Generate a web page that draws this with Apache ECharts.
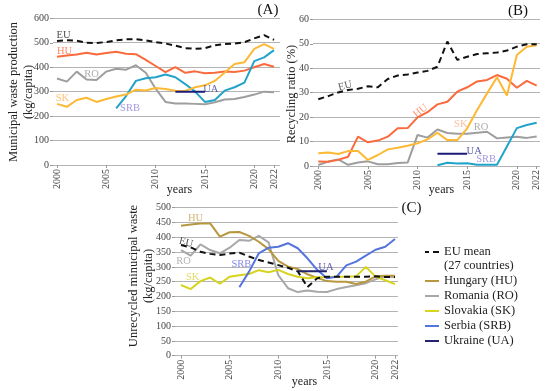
<!DOCTYPE html>
<html><head><meta charset="utf-8">
<script src="https://cdn.jsdelivr.net/npm/echarts@6/dist/echarts.min.js"></script>
<style>html,body{margin:0;padding:0;background:#fff}#c{width:550px;height:391px}</style>
</head><body><div id="c"></div>
<script>
const years = [2000,2001,2002,2003,2004,2005,2006,2007,2008,2009,2010,2011,2012,2013,2014,2015,2016,2017,2018,2019,2020,2021,2022];
const xTickLabels = [2000,2005,2010,2015,2020,2022];

// (A) Municipal waste production (kg/capita)
const A_EU  = [507,510,508,500,499,503,510,514,515,510,502,497,488,478,475,478,490,495,497,502,518,531,512];
const A_HU  = [443,448,452,459,452,458,463,455,453,430,405,380,400,377,383,375,377,382,380,386,400,413,402];
const A_RO  = [354,341,382,350,348,382,394,390,408,377,312,258,252,252,250,248,257,268,270,278,288,300,298];
const A_SK  = [250,238,266,275,258,270,280,288,308,305,315,311,304,303,318,326,344,378,413,420,475,494,475];
const A_SRB = [null,null,null,null,null,null,232,282,344,355,359,370,359,331,300,258,266,304,318,337,425,440,470];
const A_UA  = [null,null,null,null,null,null,null,null,null,null,null,null,300,300,300,300,null,null,null,null,null,null,null];

// (B) Recycling ratio (%)
const B_EU  = [27.3,28.6,30.1,31.1,31.6,32.6,32.2,35.6,37.0,37.4,38.2,38.9,40.6,50.9,43.4,44.7,45.8,46.1,46.4,47.2,48.8,49.8,49.8];
const B_HU  = [1.8,1.7,2.5,3.8,12.0,9.7,10.4,12.0,15.4,15.5,19.9,22.0,25.2,26.3,30.4,32.2,34.6,35.2,37.2,35.7,32.0,34.8,32.9];
const B_RO  = [0.4,1.8,2.7,0.5,1.4,1.9,0.7,0.7,1.2,1.4,12.7,11.6,14.9,13.5,13.2,13.2,13.6,14.0,11.3,11.7,12.0,11.5,12.1];
const B_SK  = [5.2,5.5,4.9,6.1,6.1,2.5,4.5,6.8,7.5,8.3,9.3,10.9,13.6,10.6,10.6,15.4,22.9,29.7,36.3,28.8,45.4,48.8,49.4];
const B_SRB = [null,null,null,null,null,null,null,null,null,null,null,null,0.3,1.3,1.0,1.1,0.5,0.5,0.5,8.0,15.5,16.8,17.7];
const B_UA  = [null,null,null,null,null,null,null,null,null,null,null,null,5,5,5,5,null,null,null,null,null,null,null];

// (C) Unrecycled municipal waste (kg/capita)
const C_EU  = [374,366,351,344,340,345,348,335,323,315,306,297,285,232,262,267,267,267,267,267,268,266,266];
const C_HU  = [439,443,447,447,402,417,418,405,385,360,320,301,293,275,263,252,250,250,242,250,268,270,270];
const C_RO  = [357,338,376,357,346,365,391,388,405,383,272,228,215,220,216,215,225,232,238,245,258,268,265];
const C_SK  = [239,225,252,264,243,267,272,276,289,282,290,276,267,262,265,265,267,267,268,300,267,255,242];
const C_SRB = [null,null,null,null,null,null,231,284,346,365,368,380,363,329,290,262,267,305,318,338,358,368,394];
const C_UA  = [null,null,null,null,null,null,null,null,null,null,null,null,285,285,285,285,null,null,null,null,null,null,null];

const legendNames = ['EU mean','Hungary (HU)','Romania (RO)','Slovakia (SK)','Serbia (SRB)','Ukraine (UA)'];

// in-plot series tags
const A_tags = [['EU',2000.66,532],['HU',2000.76,466],['RO',2003.5,370],['SK',2000.55,275],['SRB',2007.4,232],['UA',2015.6,311]];
const B_tags = [['EU',2002.7,32.7],['HU',2010.3,22.5],['SK',2014.35,17.2],['RO',2016.4,16.0],['UA',2015.7,6.1],['SRB',2016.9,2.9]];
const C_tags = [['HU',2001.5,465],['EU',2000.5,382],['RO',2000.25,318],['SRB',2006.2,310],['SK',2001.2,266],['UA',2014.9,300]];

const SERIF = "'Liberation Serif','Times New Roman',serif";
const colA = {EU:'#111111',HU:'#fb6a3c',RO:'#9e9e9e',SK:'#fdb935',SRB:'#22a3c9',UA:'#1c1c78'};
const colC = {EU:'#111111',HU:'#b8983e',RO:'#a8a8a8',SK:'#d6d41e',SRB:'#5474de',UA:'#22226e'};
const tagColA = {EU:'#222',HU:'#fb6a3c',RO:'#999',SK:'#fdb04a',SRB:'#8b80d8',UA:'#3a3f9c'};
const tagColB = {EU:'#333',HU:'#f57c55',RO:'#999',SK:'#f7b088',SRB:'#8b80d8',UA:'#2e3390'};
const tagColC = {EU:'#222',HU:'#c4a050',RO:'#a0a0a0',SK:'#d8d040',SRB:'#6a6ae0',UA:'#3a3aa0'};
const tagRotB = {EU:14,HU:38};
const tagRotC = {EU:-14};

function pts(arr){ return years.map((y,i)=>[y,arr[i]]).filter(p=>p[1]!==null); }
function line(name, arr, color, gi, dashed, z){
  return {type:'line', name, data:pts(arr), xAxisIndex:gi, yAxisIndex:gi, symbol:'none',
    lineStyle:{color, width:2, type: dashed ? [6,4] : 'solid'}, itemStyle:{color}, z: z||2, silent:true, animation:false};
}
function tags(list, gi, colors, rots){
  return {type:'scatter', xAxisIndex:gi, yAxisIndex:gi, symbolSize:0, silent:true, z:10, animation:false,
    data: list.map(t=>({value:[t[1],t[2]], label:{show:true, position:'inside', formatter:t[0],
      color:colors[t[0]], rotate:(rots&&rots[t[0]])||0, fontSize:10.5, fontFamily:SERIF}}))};
}

const P = {
  A:{bg:{left:53,right:270,top:18.3,bottom:226}, d:{left:57,right:276,top:18.3,bottom:226}, max:600, iv:100},
  B:{bg:{left:313,right:10,top:19.3,bottom:225}, d:{left:318.3,right:13.3,top:19.3,bottom:225}, max:60, iv:10},
  C:{bg:{left:175,right:152,top:207.7,bottom:35.3}, d:{left:181,right:155,top:207.7,bottom:35.3}, max:500, iv:50}
};
const grid=[], xAxis=[], yAxis=[];
['A','B','C'].forEach(k=>{
  const p=P[k];
  grid.push(p.bg); grid.push(p.d);
  const bi=grid.length-2, di=grid.length-1;
  xAxis.push({type:'value', gridIndex:bi, min:0, max:1, show:false});
  yAxis.push({type:'value', gridIndex:bi, min:0, max:p.max, interval:p.iv,
    axisLine:{show:false}, axisTick:{show:true, length:3, lineStyle:{color:'#999'}},
    axisLabel:{fontFamily:SERIF, fontSize:10, color:'#444', margin:4},
    splitLine:{lineStyle:{color:'#b3b3b3', width:1.2}}});
  xAxis.push({type:'value', gridIndex:di, min:2000, max:2022,
    axisLine:{show:false}, splitLine:{show:false},
    axisTick:{show:true, length:3, customValues:xTickLabels, lineStyle:{color:'#999'}},
    axisLabel:{customValues:xTickLabels, rotate:90, margin:4, fontFamily:SERIF, fontSize:10, color:'#444', formatter:v=>String(v)}});
  yAxis.push({type:'value', gridIndex:di, min:0, max:p.max, show:false});
});

const series = [
  line('A-RO',A_RO,colA.RO,1), line('A-HU',A_HU,colA.HU,1), line('A-SRB',A_SRB,colA.SRB,1),
  line('A-SK',A_SK,colA.SK,1), line('A-UA',A_UA,colA.UA,1), line('A-EU',A_EU,colA.EU,1,true,3),
  tags(A_tags,1,tagColA),
  line('B-RO',B_RO,colA.RO,3), line('B-HU',B_HU,colA.HU,3), line('B-SK',B_SK,colA.SK,3),
  line('B-SRB',B_SRB,colA.SRB,3), line('B-UA',B_UA,colA.UA,3), line('B-EU',B_EU,colA.EU,3,true,3),
  tags(B_tags,3,tagColB,tagRotB),
  line(legendNames[2],C_RO,colC.RO,5), line(legendNames[1],C_HU,colC.HU,5), line(legendNames[3],C_SK,colC.SK,5),
  line(legendNames[4],C_SRB,colC.SRB,5), line(legendNames[5],C_UA,colC.UA,5), line(legendNames[0],C_EU,colC.EU,5,true,3),
  tags(C_tags,5,tagColC,tagRotC)
];

const legText = {fontFamily:SERIF, fontSize:12.5, color:'#222', lineHeight:14};
const option = {
  animation:false, backgroundColor:'#fff',
  grid, xAxis, yAxis, series,
  legend:[
    {data:[{name:legendNames[0], icon:'path://M0,0h4v2h-4zM8,0h6v2h-6z'}], left:425, top:245, orient:'vertical', padding:0, itemWidth:14, itemHeight:2, selectedMode:false, textStyle:legText},
    {data:legendNames.slice(1).map(n=>({name:n, icon:'rect'})), left:425, top:274, orient:'vertical', padding:0, itemGap:1, itemWidth:14, itemHeight:2, selectedMode:false, textStyle:legText}
  ],
  graphic:[
    {type:'text', x:444, y:265.5, style:{text:'(27 countries)', font:'12.5px '+SERIF, fill:'#222', align:'left', verticalAlign:'middle'}},
    {type:'text', x:268, y:10, style:{text:'(A)', font:'15px '+SERIF, fill:'#111', align:'center', verticalAlign:'middle'}},
    {type:'text', x:518, y:11.5, style:{text:'(B)', font:'15px '+SERIF, fill:'#111', align:'center', verticalAlign:'middle'}},
    {type:'text', x:411.5, y:208.5, style:{text:'(C)', font:'15px '+SERIF, fill:'#111', align:'center', verticalAlign:'middle'}},
    {type:'text', x:179.5, y:190, style:{text:'years', font:'12px '+SERIF, fill:'#222', align:'center', verticalAlign:'middle'}},
    {type:'text', x:441.5, y:190, style:{text:'years', font:'12px '+SERIF, fill:'#222', align:'center', verticalAlign:'middle'}},
    {type:'text', x:304.5, y:382, style:{text:'years', font:'12px '+SERIF, fill:'#222', align:'center', verticalAlign:'middle'}},
    {type:'text', x:21.5, y:92, rotation:Math.PI/2, style:{text:'Municipal waste production\n(kg/capita)', font:'12.5px '+SERIF, lineHeight:15, fill:'#222', align:'center', verticalAlign:'middle'}},
    {type:'text', x:291.7, y:94, rotation:Math.PI/2, style:{text:'Recycling ratio (%)', font:'12.5px '+SERIF, fill:'#222', align:'center', verticalAlign:'middle'}},
    {type:'text', x:141, y:276, rotation:Math.PI/2, style:{text:'Unrecycled minucipal waste\n(kg/capita)', font:'12.5px '+SERIF, lineHeight:15, fill:'#222', align:'center', verticalAlign:'middle'}}
  ]
};
const chart = echarts.init(document.getElementById('c'), null, {renderer:'canvas'});
chart.setOption(option);
</script></body></html>
